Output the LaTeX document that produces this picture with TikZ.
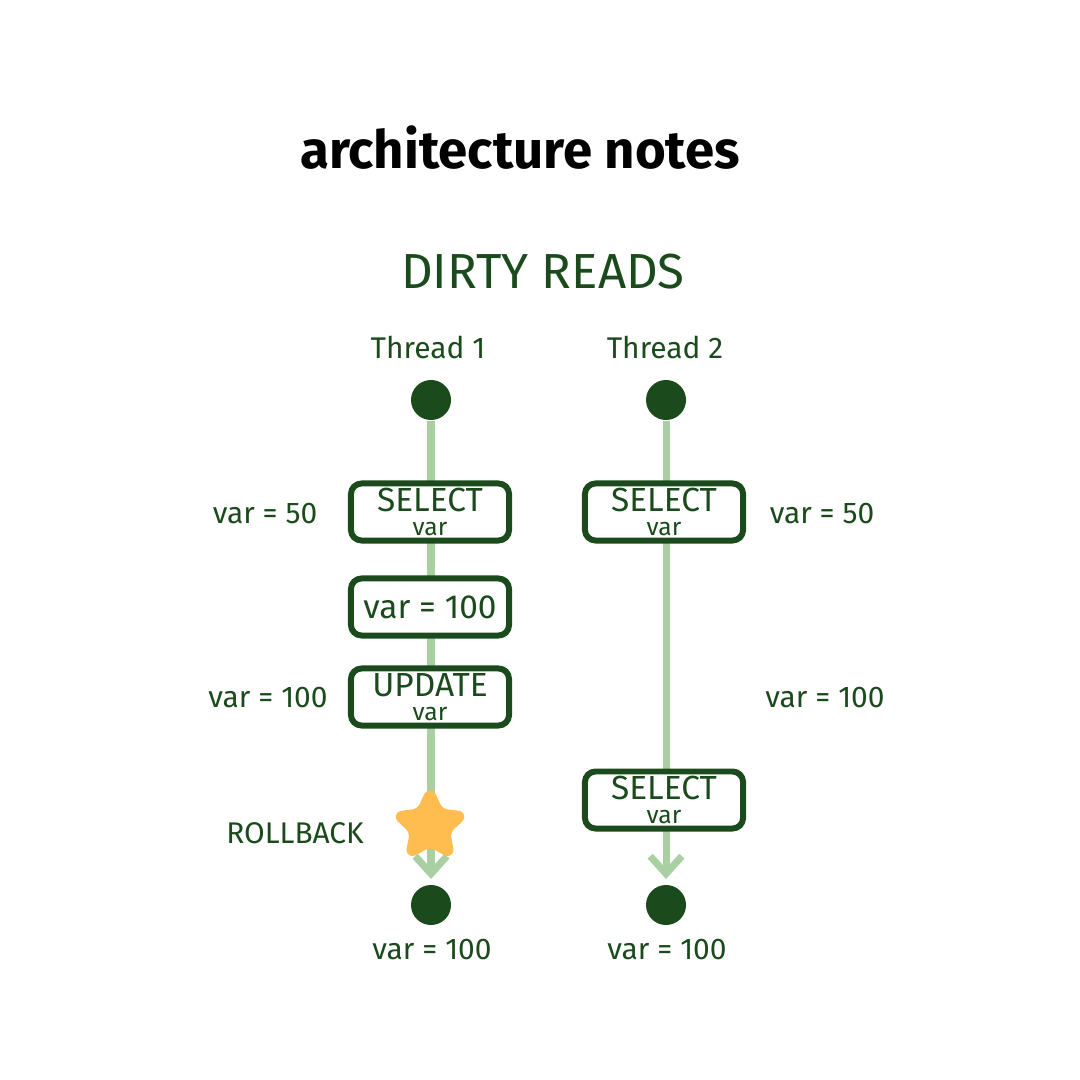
\documentclass[tikz,border=0pt]{standalone}
\usepackage{fontspec}
\setmainfont{Fira Sans}
\usetikzlibrary{arrows.meta,shapes.geometric,backgrounds}
\definecolor{leaf}{HTML}{1B4B1C}
\definecolor{sage}{HTML}{A9CFA3}
\definecolor{sun}{HTML}{FFBD4F}

\begin{document}
\begin{tikzpicture}[x=0.01cm,y=-0.01cm, line join=round, line cap=round,
	op/.style={draw=leaf, line width=1.7pt, rounded corners=3pt, fill=white, text=leaf,
		minimum width=1.58cm, minimum height=0.57cm, inner sep=0pt, align=center,
		font=\fontsize{9.5}{6.8}\selectfont},
	dot/.style={circle, fill=leaf, minimum size=0.4cm, inner sep=0pt},
	lbl/.style={text=leaf, font=\fontsize{8.5}{10}\selectfont},
	flow/.style={draw=sage, line width=2pt, shorten >=1.5pt, -{Straight Barb[length=5pt,width=9pt]}}]
	\def\sm#1{{\fontsize{7}{6.8}\selectfont #1}}
	% headings
	\node[font=\bfseries\fontsize{15}{18}\selectfont] (title) at (520,148) {architecture notes};
	\node[text=leaf, font=\fontsize{14}{18}\selectfont] (heading) at (543,272) {DIRTY READS};
	\node[lbl] (th1) at (428,347) {Thread 1};
	\node[lbl] (th2) at (665,347) {Thread 2};
	% thread ends
	\node[dot] (s1) at (431,400) {};
	\node[dot] (e1) at (431,905) {};
	\node[dot] (s2) at (666,400) {};
	\node[dot] (e2) at (666,905) {};
	% steps
	\node[op] (sel1) at (430,512) {SELECT\\\sm{var}};
	\node[op] (set1) at (430,607) {var = 100};
	\node[op] (upd1) at (430,697) {UPDATE\\\sm{var}};
	\node[op] (sel2) at (664,512) {SELECT\\\sm{var}};
	\node[op] (sel3) at (664,800) {SELECT\\\sm{var}};
	\node[star, star points=5, star point ratio=2.1, minimum size=0.72cm, inner sep=0pt,
		fill=sun, draw=sun, line width=2pt, rounded corners=2pt] (rb) at (430,826) {};
	% values
	\node[lbl] (v1) at (265,514) {var = 50};
	\node[lbl] (v2) at (268,698) {var = 100};
	\node[lbl] (v3) at (822,514) {var = 50};
	\node[lbl] (v4) at (825,698) {var = 100};
	\node[lbl] (rbl) at (295,833) {ROLLBACK};
	\node[lbl] (r1) at (432,950) {var = 100};
	\node[lbl] (r2) at (667,950) {var = 100};
	\begin{scope}[on background layer]
		\fill[white] (0,0) rectangle (1080,1080);
		\draw[flow] (s1) -- (e1);
		\draw[flow] (s2) -- (e2);
	\end{scope}
\end{tikzpicture}
\end{document}
